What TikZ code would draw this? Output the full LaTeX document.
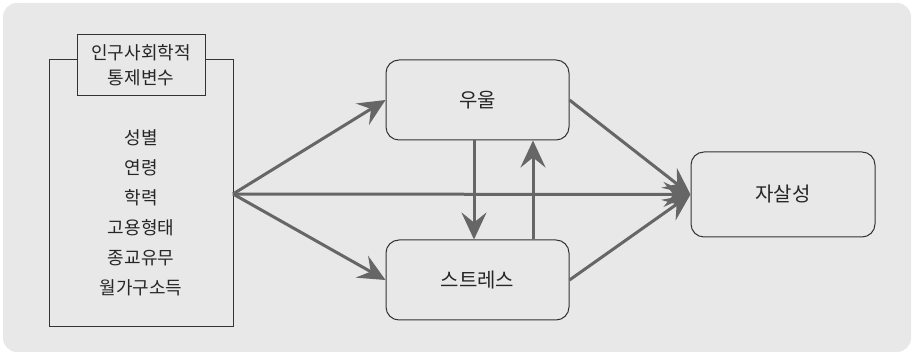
\documentclass[tikz,border=0pt]{standalone}
\usepackage{fontspec}
\newfontfamily\kr{Noto Sans CJK KR}
\usetikzlibrary{arrows.meta}
\definecolor{bgc}{HTML}{E8E8E8}
\definecolor{linec}{HTML}{666666}
\definecolor{boxc}{HTML}{333333}
\begin{document}
\begin{tikzpicture}[x=1pt,y=-1pt,
  bigbox/.style={draw=boxc,line width=1pt,rounded corners=13pt,minimum width=183pt,minimum height=80pt,font=\kr\fontsize{20}{24}\selectfont,text=black!85,inner sep=0pt},
  plainbox/.style={draw=boxc,line width=1pt,inner sep=0pt},
  arr/.style={draw=linec,line width=3pt,-{Stealth[length=27pt,width=25pt,inset=10pt]}},
  lst/.style={font=\kr\fontsize{18}{30}\selectfont,text=black!85,align=center}]
\useasboundingbox (0,0) rectangle (914,355);
\fill[bgc,rounded corners=14pt] (3,3) rectangle (911,352);
\node[plainbox,minimum width=184pt,minimum height=267pt] (ctrl) at (141,193.5) {};
\node[plainbox,fill=bgc,minimum width=128pt,minimum height=61pt,lst,font=\kr\fontsize{18}{25}\selectfont] (title) at (141,65.5) {인구사회학적\\통제변수};
\node[lst,anchor=north] (vars) at (141,126) {성별\\연령\\학력\\고용형태\\종교유무\\월가구소득};
\node[bigbox] (uu) at (477.5,100) {우울};
\node[bigbox] (st) at (477.5,280) {스트레스};
\node[bigbox,minimum width=184pt,minimum height=85pt] (su) at (783,194.5) {자살성};
\coordinate (o) at (233,194);
\draw[arr] (o) -- (uu.west);
\draw[arr] (o) -- (st.west);
\draw[arr] (o) -- (su.west);
\draw[arr] (uu.east) -- (su.west);
\draw[arr] (st.east) -- (su.west);
\draw[arr] ([xshift=-3.5pt]uu.south) -- ([xshift=-3.5pt]st.north);
\draw[arr] ([xshift=55.5pt]st.north) -- ([xshift=55.5pt]uu.south);
\end{tikzpicture}
\end{document}
